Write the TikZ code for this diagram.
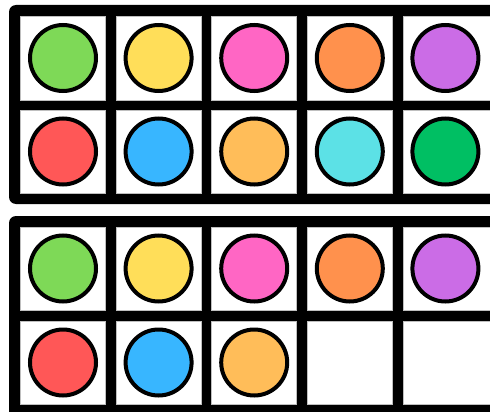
\documentclass[tikz,border=0pt]{standalone}
\definecolor{cgreen}{HTML}{7ED957}
\definecolor{cyellow}{HTML}{FFDE59}
\definecolor{cpink}{HTML}{FF66C4}
\definecolor{corange}{HTML}{FF914D}
\definecolor{cpurple}{HTML}{CB6CE6}
\definecolor{cred}{HTML}{FF5757}
\definecolor{cblue}{HTML}{38B6FF}
\definecolor{clorange}{HTML}{FFBD59}
\definecolor{ccyan}{HTML}{5CE1E6}
\definecolor{cdgreen}{HTML}{00BF63}
\begin{document}
\begin{tikzpicture}[x=1pt,y=-1pt,
  framebox/.style={fill=black,rounded corners=7pt},
  cellbox/.style={fill=white,draw=gray!50,line width=0.5pt},
  counter/.style={circle,draw=black,line width=4pt,minimum size=66pt,inner sep=0pt}]
\useasboundingbox (0,0) rectangle (490,412);
\clip (0,0) rectangle (490,412);
\fill[white] (0,0) rectangle (490,412);
% frames
\fill[framebox] (9,5) rectangle (500,204);
\fill[framebox] (9,216) rectangle (500,420);
% cells
\foreach \i in {0,...,4}{
  \pgfmathsetmacro{\xa}{20.5+95.6*\i}
  \pgfmathsetmacro{\xb}{\xa+85}
  \ifnum\i=4 \pgfmathsetmacro{\xb}{\xa+95}\fi
  \fill[cellbox] (\xa,16) rectangle (\xb,100);
  \fill[cellbox] (\xa,110) rectangle (\xb,193);
  \fill[cellbox] (\xa,227) rectangle (\xb,310);
  \fill[cellbox] (\xa,321) rectangle (\xb,404);
}
% top frame counters
\node[counter,fill=cgreen]   (a1) at (63,58) {};
\node[counter,fill=cyellow]  (a2) at (158.6,58) {};
\node[counter,fill=cpink]    (a3) at (254.2,58) {};
\node[counter,fill=corange]  (a4) at (349.8,58) {};
\node[counter,fill=cpurple]  (a5) at (445.4,58) {};
\node[counter,fill=cred]     (a6) at (63,151.5) {};
\node[counter,fill=cblue]    (a7) at (158.6,151.5) {};
\node[counter,fill=clorange] (a8) at (254.2,151.5) {};
\node[counter,fill=ccyan]    (a9) at (349.8,151.5) {};
\node[counter,fill=cdgreen]  (a10) at (445.4,151.5) {};
% bottom frame counters
\node[counter,fill=cgreen]   (b1) at (63,268.5) {};
\node[counter,fill=cyellow]  (b2) at (158.6,268.5) {};
\node[counter,fill=cpink]    (b3) at (254.2,268.5) {};
\node[counter,fill=corange]  (b4) at (349.8,268.5) {};
\node[counter,fill=cpurple]  (b5) at (445.4,268.5) {};
\node[counter,fill=cred]     (b6) at (63,362.5) {};
\node[counter,fill=cblue]    (b7) at (158.6,362.5) {};
\node[counter,fill=clorange] (b8) at (254.2,362.5) {};
\end{tikzpicture}
\end{document}
